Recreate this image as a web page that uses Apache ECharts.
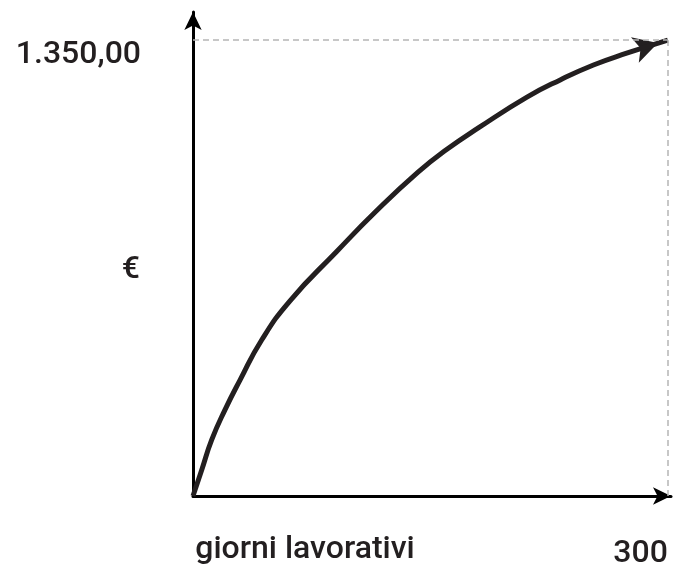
<!DOCTYPE html>
<html>
<head>
<meta charset="utf-8">
<script src="https://cdn.jsdelivr.net/npm/echarts@6/dist/echarts.min.js"></script>
<style>
  html, body { margin: 0; padding: 0; background: #fff; }
  #chart { width: 675px; height: 566px; }
</style>
</head>
<body>
<div id="chart"></div>
<script>
// giorni lavorativi -> €
const days = [0, 5.5, 11.8, 20.2, 29.7, 43.4, 61.3, 90.8, 115, 142, 160, 181, 211, 232, 253, 274, 300]
const euro = [0, 77, 166, 255, 343, 462, 578, 724, 840, 958, 1025, 1092, 1181, 1232, 1276, 1311, 1350]
const xTicks = [300]
const yTicks = [1350]

const ink = '#231f20'
const font = 'Roboto, "Helvetica Neue", Arial, sans-serif'
const textStyle = { color: ink, fontFamily: font, fontWeight: 500, fontSize: 32 }

const chart = echarts.init(document.getElementById('chart'))

const curve = days.map((d, i) => [d, euro[i]])
const last = curve[curve.length - 1]

chart.setOption({
  animation: false,
  grid: { left: 193, right: 4, top: 12, bottom: 70, containLabel: false, outerBoundsMode: 'none' },
  xAxis: {
    type: 'value',
    min: 0,
    max: 302,
    splitLine: { show: false },
    axisTick: { show: false },
    axisLine: { lineStyle: { color: '#000', width: 3 }, symbol: ['none', 'arrow'], symbolSize: [13, 18] },
    axisLabel: Object.assign({ customValues: xTicks, align: 'right', margin: 42 }, textStyle),
    name: 'giorni lavorativi',
    nameLocation: 'middle',
    nameGap: 38,
    nameMoveOverlap: false,
    nameTextStyle: Object.assign({ padding: [0, 254, 0, 0] }, textStyle)
  },
  yAxis: {
    type: 'value',
    min: 0,
    max: 1433,
    splitLine: { show: false },
    axisTick: { show: false },
    axisLine: { lineStyle: { color: '#000', width: 3 }, symbol: ['none', 'arrow'], symbolSize: [13, 18] },
    axisLabel: Object.assign({
      customValues: yTicks,
      formatter: () => '1.350,00',
      margin: 52,
      verticalAlign: 'top',
      lineHeight: 30
    }, textStyle),
    name: '€',
    nameLocation: 'middle',
    nameRotate: 0,
    nameGap: 53,
    nameMoveOverlap: false,
    nameTextStyle: Object.assign({ verticalAlign: 'top', lineHeight: 32 }, textStyle)
  },
  series: [
    {
      type: 'line',
      data: curve,
      smooth: 0.5,
      showSymbol: false,
      symbol: 'none',
      lineStyle: { color: ink, width: 5 },
      markLine: {
        silent: true,
        symbol: 'none',
        label: { show: false },
        lineStyle: { color: '#b5b5b5', width: 1.5, type: [6, 4] },
        data: [
          [{ coord: [0, last[1]] }, { coord: [last[0], last[1]] }],
          [{ coord: [last[0], 0] }, { coord: [last[0], last[1]] }]
        ]
      }
    },
    {
      type: 'scatter',
      data: [last],
      symbol: 'arrow',
      symbolSize: [20, 24],
      symbolRotate: -73,
      symbolOffset: [-10, 3],
      itemStyle: { color: ink, opacity: 1 }
    }
  ]
})
</script>
</body>
</html>
